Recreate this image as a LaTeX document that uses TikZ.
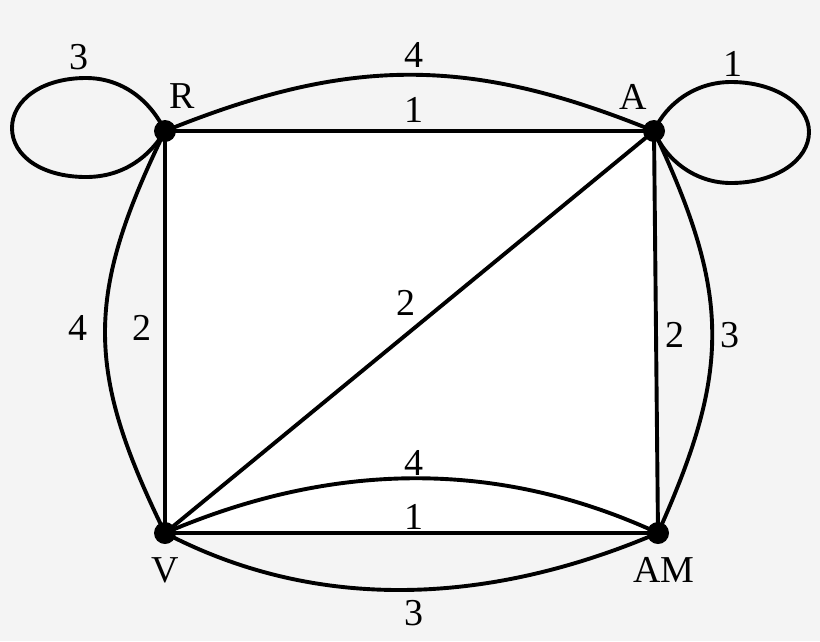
\documentclass[tikz,border=0pt]{standalone}
\usepackage{fontspec}
\setmainfont{Liberation Serif}
\begin{document}
\begin{tikzpicture}[x=1pt,y=-1pt,
  edge/.style={line width=3.9pt, line join=round},
  vdot/.style={circle, fill=black, inner sep=0pt, minimum size=22pt},
  lbl/.style={inner sep=0pt, font=\fontsize{38}{40}\selectfont}]
\useasboundingbox (0,0) rectangle (820,641);
\fill[fill={rgb,255:red,244;green,244;blue,244}] (0,0) rectangle (820,641);
\coordinate (R) at (165,131);
\coordinate (A) at (654,131);
\coordinate (V) at (165,533);
\coordinate (AM) at (658,533);
\fill[white] (R) -- (A) -- (AM) -- (V) -- cycle;
% straight edges
\draw[edge] (R) -- (A);
\draw[edge] (R) -- (V);
\draw[edge] (A) -- (AM);
\draw[edge] (V) -- (AM);
\draw[edge] (V) -- (A);
% curved edges
\draw[edge] (R) .. controls (350,56) and (470,56) .. (A);
\draw[edge] (R) .. controls (85,295) and (85,370) .. (V);
\draw[edge] (A) .. controls (731,295) and (731,370) .. (AM);
\draw[edge] (V) .. controls (335,460) and (500,460) .. (AM);
\draw[edge] (V) .. controls (310,609) and (480,609) .. (AM);
% loops
\draw[edge] (R) .. controls (150,100) and (122,78) .. (86,78)
  .. controls (42,78) and (12,100) .. (12,128)
  .. controls (12,156) and (42,177) .. (86,177)
  .. controls (124,177) and (150,156) .. (R);
\draw[edge] (A) .. controls (666,104) and (695,82) .. (731,82)
  .. controls (776,82) and (809,105) .. (809,132)
  .. controls (809,160) and (776,183) .. (731,183)
  .. controls (695,183) and (666,160) .. (A);
% vertex dots
\node[vdot] (dR) at (R) {};
\node[vdot] (dA) at (A) {};
\node[vdot] (dV) at (V) {};
\node[vdot] (dAM) at (AM) {};
% vertex labels
\node[lbl] (lR) at (182,96) {R};
\node[lbl] (lA) at (633,97) {A};
\node[lbl] (lV) at (165,570) {V};
\node[lbl] (lAM) at (664,570) {AM};
% edge weights
\node[lbl] (wRR) at (79,57) {3};
\node[lbl] (wAA) at (733,64) {1};
\node[lbl] (wRAc) at (414,55) {4};
\node[lbl] (wRA) at (414,110) {1};
\node[lbl] (wRVc) at (78,328) {4};
\node[lbl] (wRV) at (142,328) {2};
\node[lbl] (wVA) at (406,303) {2};
\node[lbl] (wAAM) at (675,335) {2};
\node[lbl] (wAAMc) at (730,335) {3};
\node[lbl] (wVAMc) at (414,463) {4};
\node[lbl] (wVAM) at (414,517) {1};
\node[lbl] (wVAMd) at (414,613) {3};
\end{tikzpicture}
\end{document}
